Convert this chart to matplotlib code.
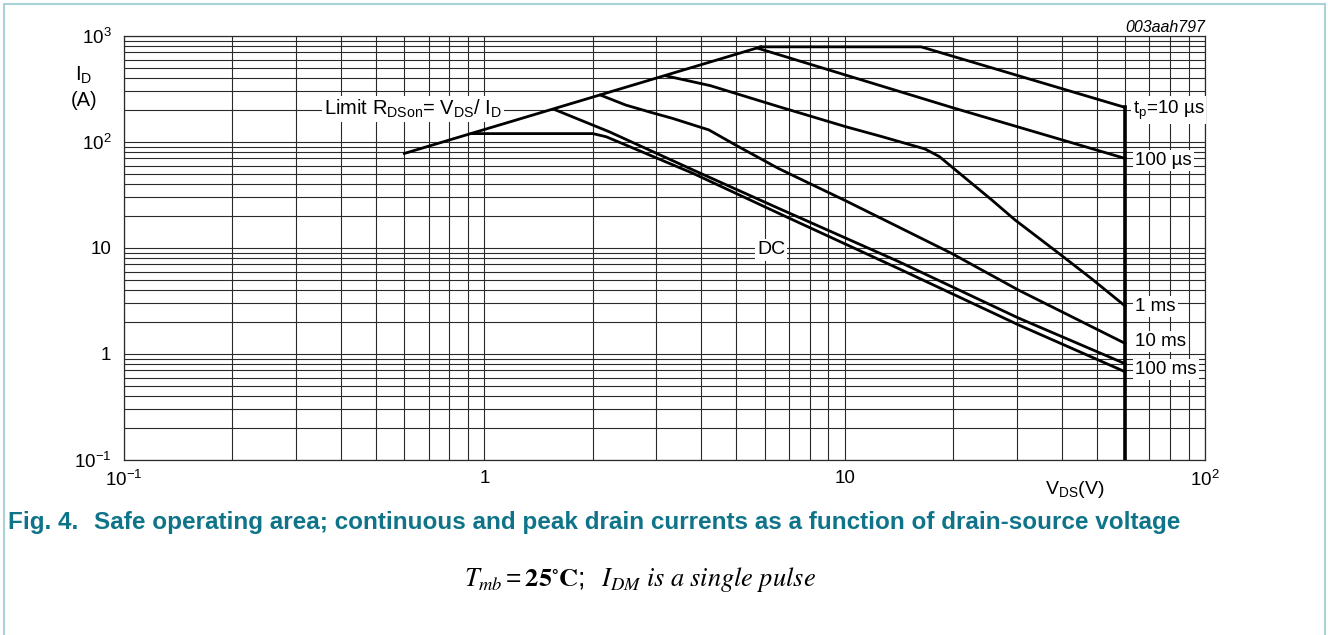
import matplotlib
matplotlib.use("Agg")
import matplotlib.pyplot as plt
from matplotlib.lines import Line2D
from matplotlib.ticker import LogLocator, FixedLocator, NullFormatter

plt.rcParams['font.family'] = ['Liberation Sans', 'DejaVu Sans']
plt.rcParams['mathtext.default'] = 'regular'

# curves: V_DS (V), I_D (A)
limit_v = [0.6, 5.85]
limit_i = [78, 790]

us10_v = [5.85, 16.3, 60]
us10_i = [790, 790, 212]

us100_v = [5.75, 20, 60]
us100_i = [765, 210, 70]

ms1_v = [3.2, 4.24, 6.55, 10.1, 12.5, 16.7, 18.3, 25.6, 29.7, 39.3, 48.2, 60]
ms1_i = [420, 340, 216, 139, 114, 86, 73, 28.4, 18.4, 8.9, 5.2, 2.84]

ms10_v = [2.10, 2.47, 2.92, 3.33, 4.2, 4.97, 6.55, 7.96, 10.0, 14.1, 19.8, 30.4, 60]
ms10_i = [277, 223, 189, 167, 130, 94, 56.3, 40.9, 28.2, 15.8, 8.9, 4.0, 1.26]

ms100_v = [1.58, 2.22, 3.79, 6.55, 14.1, 30.4, 60]
ms100_i = [200, 125, 54.6, 23.7, 7.46, 2.18, 0.81]

dc_v = [0.92, 2.0, 2.18, 3.79, 6.55, 14.1, 30.4, 60]
dc_i = [120, 120, 112, 50.7, 21.3, 6.4, 1.88, 0.68]

vmax_v = [60, 60]
vmax_i = [212, 0.1]

x_ticks = [0.1, 1, 10, 100]
x_labels = ['10$^{-1}$', '1', '10', '10$^{2}$']
y_ticks = [0.1, 1, 10, 100, 1000]
y_labels = ['10$^{-1}$', '1', '10', '10$^{2}$', '10$^{3}$']

W, H = 1328, 635
fig = plt.figure(figsize=(W / 100, H / 100), dpi=100)
ax = fig.add_axes([124 / W, 1 - 460 / H, (1205 - 124) / W, (460 - 36) / H])
ax.set_xscale('log')
ax.set_yscale('log')
ax.set_xlim(0.1, 100)
ax.set_ylim(0.1, 1000)

ax.xaxis.set_major_locator(FixedLocator(x_ticks))
ax.set_xticklabels(x_labels)
ax.yaxis.set_major_locator(FixedLocator(y_ticks))
ax.set_yticklabels(y_labels)
for a in (ax.xaxis, ax.yaxis):
    a.set_minor_locator(LogLocator(base=10, subs=range(2, 10)))
    a.set_minor_formatter(NullFormatter())
ax.tick_params(which='both', length=0, labelsize=13.5)
ax.tick_params(axis='y', pad=9)
ax.tick_params(axis='x', pad=7)
ax.grid(which='both', color='#2a2a2a', lw=0.8)
for s in ax.spines.values():
    s.set_color('#2a2a2a')
    s.set_linewidth(0.9)

lw = 2.0
for v, i in [(limit_v, limit_i), (us10_v, us10_i), (us100_v, us100_i), (ms1_v, ms1_i),
             (ms10_v, ms10_i), (ms100_v, ms100_i), (dc_v, dc_i)]:
    ax.plot(v, i, color='black', lw=lw, solid_joinstyle='round', zorder=3)
ax.plot(vmax_v, vmax_i, color='black', lw=2.6, zorder=3)

box = dict(facecolor='white', edgecolor='none', pad=1.5)
fs = 13.5
ax.text(0.635, 205, 'Limit R$_{DSon}$= V$_{DS}$/ I$_{D}$', fontsize=14.5, ha='center', va='center', bbox=box, zorder=4)
ax.text(63, 200, 't$_{p}$=10 µs', fontsize=fs, ha='left', va='center', bbox=box, zorder=4)
ax.text(64, 67, '100 µs', fontsize=fs, ha='left', va='center', bbox=box, zorder=4)
ax.text(64, 2.8, '1 ms', fontsize=fs, ha='left', va='center', bbox=box, zorder=4)
ax.text(64, 1.3, '10 ms', fontsize=fs, ha='left', va='center', bbox=box, zorder=4)
ax.text(64, 0.71, '100 ms', fontsize=fs, ha='left', va='center', bbox=box, zorder=4)
ax.text(6.25, 9.6, 'DC', fontsize=14, ha='center', va='center', bbox=box, zorder=4)

fig.text(1205 / W, 1 - 28 / H, '003aah797', fontsize=11.5, style='italic', ha='right', va='center')
fig.text(84 / W, 1 - 75 / H, 'I$_{D}$', fontsize=14.5, ha='center', va='center')
fig.text(84 / W, 1 - 101 / H, '(A)', fontsize=14.5, ha='center', va='center')
fig.text(1075 / W, 1 - 490 / H, 'V$_{DS}$(V)', fontsize=14, ha='center', va='center')

teal = '#0f7489'
fig.text(8 / W, 1 - 522 / H, 'Fig. 4.', fontsize=17.5, weight='bold', color=teal, ha='left', va='center')
fig.text(94 / W, 1 - 522 / H,
         'Safe operating area; continuous and peak drain currents as a function of drain-source voltage',
         fontsize=17.5, weight='bold', color=teal, ha='left', va='center')
fig.text(640 / W, 1 - 580 / H,
         r'$\mathit{T}_{\mathit{mb}} = \mathbf{25}^{\circ}\mathbf{C};\ \ \mathit{I}_{\mathit{DM}}\ \mathit{is\ a\ single\ pulse}$',
         fontsize=19, ha='center', va='center', math_fontfamily='stix')

# page frame
frame = '#a8d3d9'
fig.add_artist(Line2D([4 / W, 4 / W], [0, 1 - 4 / H], color=frame, lw=1.5))
fig.add_artist(Line2D([4 / W, 1325 / W], [1 - 4 / H, 1 - 4 / H], color=frame, lw=1.5))
fig.add_artist(Line2D([1325 / W, 1325 / W], [0, 1 - 4 / H], color=frame, lw=1.5))

fig.savefig('out.png', dpi=100)
